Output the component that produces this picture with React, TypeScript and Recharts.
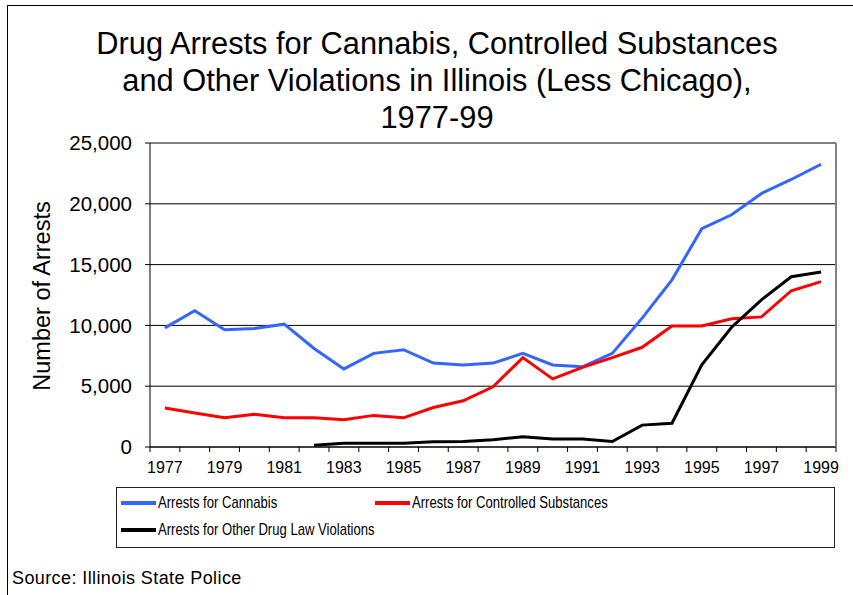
import { LineChart, Line, XAxis, YAxis, CartesianGrid, ReferenceLine } from "recharts";

const years = [
  "1977", "1978", "1979", "1980", "1981", "1982", "1983", "1984", "1985", "1986", "1987", "1988",
  "1989", "1990", "1991", "1992", "1993", "1994", "1995", "1996", "1997", "1998", "1999",
];

const cannabis = [
  9800, 11200, 9650, 9750, 10100, 8100, 6420, 7700, 8000, 6900, 6750, 6900,
  7700, 6750, 6600, 7700, 10600, 13750, 17950, 19100, 20850, 22000, 23250,
];

const controlled = [
  3200, 2800, 2400, 2700, 2400, 2400, 2250, 2600, 2400, 3250, 3800, 4950,
  7350, 5600, 6550, 7350, 8200, 9950, 9950, 10550, 10700, 12850, 13600,
];

const otherViolations = [
  null, null, null, null, null, 150, 300, 300, 300, 440, 450, 600,
  850, 650, 650, 450, 1800, 1950, 6750, 9850, 12100, 14000, 14400,
];

const yTicks = [0, 5000, 10000, 15000, 20000, 25000];

const data = years.map((year, i) => ({
  year,
  cannabis: cannabis[i],
  controlled: controlled[i],
  other: otherViolations[i],
}));

const series = [
  { key: "cannabis", name: "Arrests for Cannabis", color: "#3366FF" },
  { key: "controlled", name: "Arrests for Controlled Substances", color: "#FF0000" },
  { key: "other", name: "Arrests for Other Drug Law Violations", color: "#000000" },
];

const FONT = "'Liberation Sans', Arial, sans-serif";
const PLOT_LEFT = 150;
const PLOT_TOP = 143;
const PLOT_RIGHT = 836;
const PLOT_BOTTOM = 447;
const STEP = (PLOT_RIGHT - PLOT_LEFT) / years.length;

const YearTick = (props: any) => {
  const { x, payload, index } = props;
  const odd = Number(payload.value) % 2 === 1;
  return (
    <g>
      <line x1={x - STEP / 2} x2={x - STEP / 2} y1={PLOT_BOTTOM} y2={PLOT_BOTTOM + 5} stroke="#000" />
      {index === years.length - 1 && (
        <line x1={x + STEP / 2} x2={x + STEP / 2} y1={PLOT_BOTTOM} y2={PLOT_BOTTOM + 5} stroke="#000" />
      )}
      {odd && (
        <text x={x} y={PLOT_BOTTOM + 26} textAnchor="middle" fontSize={16} fontFamily={FONT} fill="#000">
          {payload.value}
        </text>
      )}
    </g>
  );
};

export default function App() {
  return (
    <div style={{ position: "absolute", left: 0, top: 0, width: 853, height: 595, background: "#fff", overflow: "hidden" }}>
      <div
        style={{
          position: "absolute",
          left: 7,
          top: 5,
          width: 900,
          height: 700,
          border: "1px solid #000",
        }}
      />
      <div
        style={{
          position: "absolute",
          left: 0,
          top: 25,
          width: 874,
          textAlign: "center",
          fontFamily: FONT,
          fontSize: 30.8,
          lineHeight: "37px",
          color: "#000",
        }}
      >
        Drug Arrests for Cannabis, Controlled Substances
        <br />
        and Other Violations in Illinois (Less Chicago),
        <br />
        1977-99
      </div>
      <div
        style={{
          position: "absolute",
          left: 42,
          top: 296,
          transform: "translate(-50%, -50%) rotate(-90deg)",
          fontFamily: FONT,
          fontSize: 23.5,
          whiteSpace: "nowrap",
          color: "#000",
        }}
      >
        Number of Arrests
      </div>
      <div style={{ position: "absolute", left: 0, top: 0 }}>
        <LineChart
          width={853}
          height={595}
          data={data}
          margin={{ top: PLOT_TOP, left: PLOT_LEFT - 80, right: 853 - PLOT_RIGHT, bottom: 595 - PLOT_BOTTOM - 40 }}
        >
          <CartesianGrid vertical={false} stroke="#000" strokeWidth={1} />
          <XAxis
            dataKey="year"
            interval={0}
            height={40}
            tick={<YearTick />}
            tickLine={false}
            axisLine={{ stroke: "#000" }}
            padding={{ left: STEP / 2, right: STEP / 2 }}
          />
          <YAxis
            width={80}
            domain={[0, 25000]}
            ticks={yTicks}
            tickFormatter={(v: number) => v.toLocaleString("en-US")}
            tick={{ fontSize: 20.5, fontFamily: FONT, fill: "#000" }}
            tickSize={5}
            tickMargin={13}
            tickLine={{ stroke: "#000" }}
            axisLine={{ stroke: "#000" }}
          />
          <ReferenceLine y={25000} stroke="#808080" strokeWidth={2} />
          {series.map((s) => (
            <Line
              key={s.key}
              dataKey={s.key}
              name={s.name}
              stroke={s.color}
              strokeWidth={3}
              dot={false}
              activeDot={false}
              connectNulls={false}
              isAnimationActive={false}
            />
          ))}
        </LineChart>
      </div>
      <div
        style={{
          position: "absolute",
          left: PLOT_RIGHT - 1,
          top: PLOT_TOP,
          width: 0,
          height: PLOT_BOTTOM - PLOT_TOP,
          borderRight: "2px solid #808080",
        }}
      />
      {/* legend box */}
      <div
        style={{
          position: "absolute",
          left: 116,
          top: 487,
          width: 719,
          height: 61,
          border: "1px solid #222",
          boxSizing: "border-box",
          fontFamily: FONT,
          fontSize: 17,
          color: "#000",
        }}
      >
        {series.map((s, i) => (
          <div
            key={s.key}
            style={{
              position: "absolute",
              left: i === 1 ? 258 : 4,
              top: i === 2 ? 32 : 5,
              display: "flex",
              alignItems: "center",
              whiteSpace: "nowrap",
            }}
          >
            <span style={{ display: "inline-block", width: 35, height: 4, background: s.color, marginRight: 2 }} />
            <span style={{ display: "inline-block", transform: "scaleX(0.77)", transformOrigin: "left center" }}>
              {s.name}
            </span>
          </div>
        ))}
      </div>
      <div
        style={{
          position: "absolute",
          left: 12,
          top: 568,
          fontFamily: FONT,
          fontSize: 18,
          letterSpacing: 0.4,
          color: "#000",
          whiteSpace: "nowrap",
        }}
      >
        Source: Illinois State Police
      </div>
    </div>
  );
}
